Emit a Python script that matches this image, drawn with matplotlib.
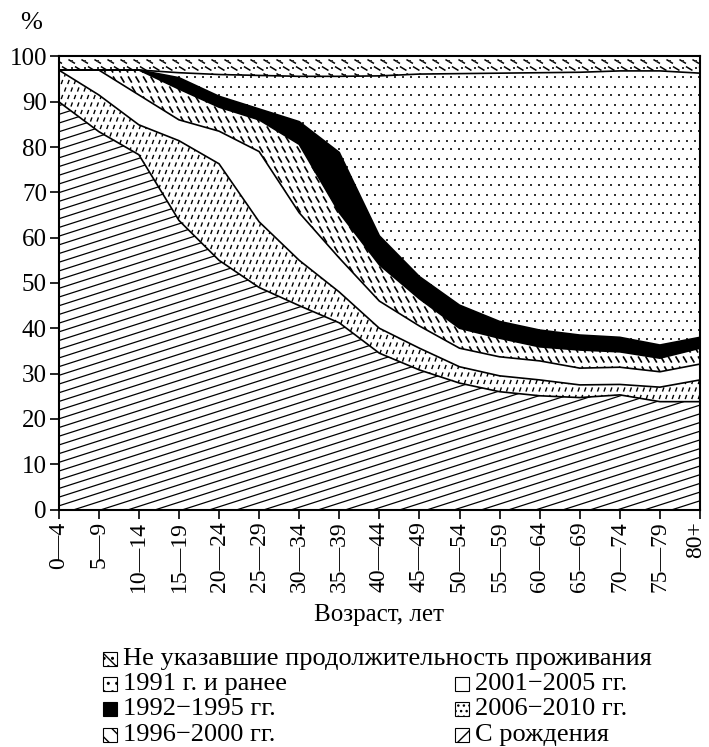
import numpy as np
import matplotlib
matplotlib.use('Agg')
import matplotlib.pyplot as plt
import matplotlib.transforms as mtransforms
from matplotlib.path import Path
from matplotlib.patches import Rectangle
from matplotlib.collections import LineCollection

plt.rcParams['font.family'] = ['Liberation Serif', 'DejaVu Serif']
plt.rcParams['font.size'] = 18

# age groups
ages = ['0—4', '5—9', '10—14', '15—19', '20—24', '25—29', '30—34', '35—39',
        '40—44', '45—49', '50—54', '55—59', '60—64', '65—69', '70—74', '75—79', '80+']

# shares, % (bottom to top)
s_birth = [90, 83.4, 78.3, 63.8, 55, 49, 45, 41.2, 34.5, 30.8, 27.9, 26, 25.1, 24.7, 25.3, 23.8, 23.8]
s_0610 = [7, 8.1, 6.6, 17.6, 21.3, 14.5, 10, 6.8, 5.5, 4.8, 3.6, 3.5, 3.5, 2.8, 2.3, 3.2, 4.8]
s_0105 = [0, 5.5, 6.6, 4.6, 7.2, 15.5, 10.5, 7.5, 6, 4.9, 4.1, 4.2, 4.2, 3.7, 3.8, 3.4, 3.5]
s_9600 = [0, 0, 5.5, 6.8, 5.3, 7, 15.1, 10, 8, 6, 4.4, 4.1, 3.1, 4, 3.4, 3, 3.5]
s_9295 = [0, 0, 0, 2.5, 2.4, 2.4, 5, 13.3, 6.4, 4.9, 5.1, 3.7, 3.7, 3.3, 3.2, 2.9, 2.4]
s_91 = [0, 0, 0, 1.1, 4.8, 7.4, 10, 16.8, 35.3, 44.7, 51.1, 54.8, 56.8, 58, 58.8, 60.5, 58.3]
s_na = [3, 3, 3, 3.6, 4, 4.2, 4.4, 4.4, 4.3, 3.9, 3.8, 3.7, 3.6, 3.5, 3.2, 3.2, 3.7]

series = [s_birth, s_0610, s_0105, s_9600, s_9295, s_91, s_na]
x = np.arange(len(ages))

W, H = 709, 747
fig = plt.figure(figsize=(W / 100, H / 100), dpi=100)
ax = fig.add_axes([58.7 / W, 1 - 509.5 / H, (700 - 58.7) / W, (509.5 - 56.4) / H])
ax.set_xlim(0, 16)
ax.set_ylim(0, 100)

polys = ax.stackplot(x, series, colors=['white', 'white', 'white', 'white', 'black', 'white', 'white'],
                     linewidth=0)

# boundaries
cum = np.cumsum(np.array(series), axis=0)
for c in cum[:-1]:
    ax.plot(x, c, color='black', lw=1.2, zorder=4)

pw, ph = ax.bbox.width, ax.bbox.height


def clip_to(artist, poly):
    artist.set_clip_path(poly.get_paths()[0], ax.transData)


def texture(poly, dx, dy, marker, size, color='black', lw=0.9, shift=0.5, filled=False):
    xs, ys = [], []
    j = 0
    for yp in np.arange(0, ph + dy, dy):
        off = (j % 2) * dx * shift
        for xp in np.arange(-dx, pw + dx, dx):
            xs.append((xp + off) / pw * 16)
            ys.append(yp / ph * 100)
        j += 1
    if filled:
        sc = ax.scatter(xs, ys, marker=marker, s=size, c=color, linewidths=0, zorder=3)
    else:
        sc = ax.scatter(xs, ys, marker=marker, s=size, facecolors='none',
                        edgecolors=color, linewidths=lw, zorder=3)
    clip_to(sc, poly)


slash = Path([(-0.35, -1), (0.35, 1)])
back = Path([(-0.6, 1), (0.6, -1)])
back_flat = Path([(-1, 0.6), (1, -0.6)])

# С рождения: shallow slanted lines
segs = []
slope = 0.32
for c0 in np.arange(-slope * pw, ph, 8.7):
    segs.append([(0, c0 / ph * 100), (16, (c0 + slope * pw) / ph * 100)])
lc = LineCollection(segs, colors='black', linewidths=0.9, zorder=3)
ax.add_collection(lc)
clip_to(lc, polys[0])

# 2006-2010
texture(polys[1], 6.5, 7.5, slash, 9, lw=1.0)
# 1996-2000
texture(polys[3], 7.5, 10, back, 20, lw=1.2)
# 1991 и ранее
texture(polys[5], 8, 9, 's', 1.8, color='#333', filled=True)
# не указавшие
texture(polys[6], 13, 7, back_flat, 22, lw=1.1)
texture(polys[6], 13, 7, 's', 1.6, color='#333', shift=0.0, filled=True)

for s in ax.spines.values():
    s.set_linewidth(1.5)
    s.set_zorder(5)

ax.set_yticks(np.arange(0, 101, 10))
ax.set_xticks(x, ages, rotation=90, fontsize=17)
ax.tick_params(direction='out', length=6.5, width=1.2, pad=2)
last = ax.get_xticklabels()[-1]
last.set_transform(last.get_transform() + mtransforms.ScaledTranslation(-0.04, 0, fig.dpi_scale_trans))
ax.set_xlabel('Возраст, лет', va='center')
ax.xaxis.set_label_coords(0.5, -0.232)

fig.text(31 / W, 1 - 23 / H, '%', ha='center', va='center', fontsize=19)

# legend
legend = [
    ('Не указавшие продолжительность проживания', 103, 659, 'white', '\\\\..'),
    ('1991 г. и ранее', 103, 684, 'white', '..'),
    ('1992−1995 гг.', 103, 709, 'black', ''),
    ('1996−2000 гг.', 103, 735, 'white', '\\\\'),
    ('2001−2005 гг.', 455, 684, 'white', ''),
    ('2006−2010 гг.', 455, 709, 'white', '...'),
    ('С рождения', 455, 735, 'white', '//'),
]
box = 14
for label, lx, ly, fc, hatch in legend:
    r = Rectangle((lx / W, 1 - (ly + box / 2) / H), box / W, box / H, transform=fig.transFigure,
                  facecolor=fc, edgecolor='black', hatch=hatch, lw=0.8)
    fig.add_artist(r)
    fig.text((lx + box + 6) / W, 1 - ly / H, label, ha='left', va='center', fontsize=19)

fig.savefig('out.png', dpi=100)
